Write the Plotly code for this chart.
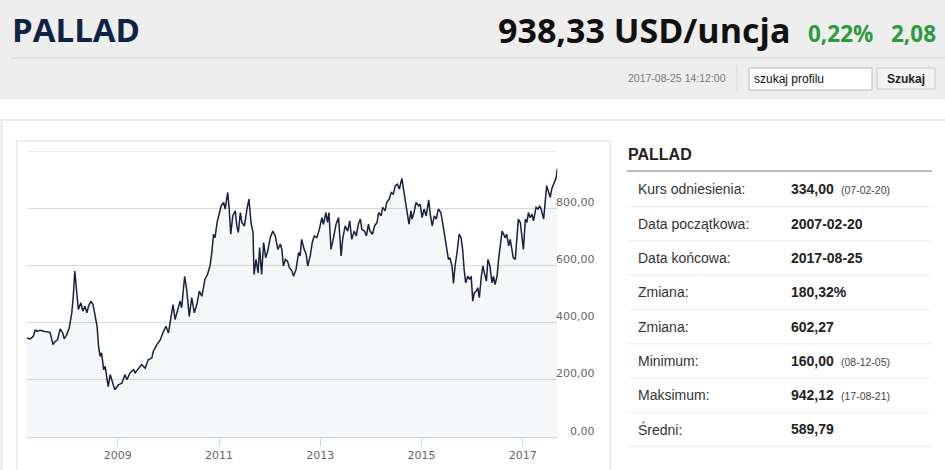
import plotly.graph_objects as go

# ---------------- data ----------------
years = [
    2007.20, 2007.27, 2007.33, 2007.37, 2007.40, 2007.47, 2007.56, 2007.66, 2007.72, 2007.76,
    2007.81, 2007.86, 2007.91, 2007.94, 2007.99, 2008.04, 2008.09, 2008.12, 2008.15, 2008.19,
    2008.22, 2008.27, 2008.31, 2008.35, 2008.39, 2008.42, 2008.47, 2008.51, 2008.55, 2008.59,
    2008.62, 2008.65, 2008.68, 2008.72, 2008.75, 2008.78, 2008.81, 2008.85, 2008.88, 2008.91,
    2008.94, 2009.01, 2009.08, 2009.14, 2009.18, 2009.24, 2009.31, 2009.34, 2009.41, 2009.47,
    2009.54, 2009.60, 2009.67, 2009.70, 2009.77, 2009.84, 2009.90, 2009.95, 2010.00, 2010.05,
    2010.09, 2010.13, 2010.18, 2010.23, 2010.26, 2010.32, 2010.36, 2010.41, 2010.46, 2010.51,
    2010.56, 2010.61, 2010.66, 2010.72, 2010.77, 2010.82, 2010.86, 2010.89, 2010.92, 2010.96,
    2011.00, 2011.04, 2011.09, 2011.12, 2011.17, 2011.20, 2011.23, 2011.27, 2011.32, 2011.35,
    2011.38, 2011.42, 2011.45, 2011.50, 2011.55, 2011.59, 2011.63, 2011.67, 2011.69, 2011.73,
    2011.77, 2011.80, 2011.84, 2011.88, 2011.92, 2011.96, 2012.01, 2012.06, 2012.11, 2012.16,
    2012.21, 2012.24, 2012.27, 2012.31, 2012.35, 2012.39, 2012.44, 2012.47, 2012.52, 2012.57,
    2012.60, 2012.63, 2012.68, 2012.72, 2012.75, 2012.80, 2012.84, 2012.88, 2012.93, 2012.98,
    2013.03, 2013.06, 2013.11, 2013.14, 2013.17, 2013.21, 2013.26, 2013.31, 2013.36, 2013.41,
    2013.44, 2013.49, 2013.54, 2013.58, 2013.62, 2013.67, 2013.71, 2013.75, 2013.79, 2013.82,
    2013.87, 2013.91, 2013.95, 2013.98, 2014.03, 2014.07, 2014.12, 2014.15, 2014.20, 2014.23,
    2014.28, 2014.31, 2014.36, 2014.40, 2014.44, 2014.48, 2014.52, 2014.56, 2014.61, 2014.64,
    2014.68, 2014.71, 2014.75, 2014.79, 2014.81, 2014.85, 2014.89, 2014.94, 2014.97, 2015.01,
    2015.05, 2015.09, 2015.14, 2015.17, 2015.21, 2015.25, 2015.29, 2015.33, 2015.38, 2015.42,
    2015.47, 2015.50, 2015.53, 2015.56, 2015.60, 2015.63, 2015.66, 2015.70, 2015.74, 2015.78,
    2015.81, 2015.84, 2015.87, 2015.91, 2015.95, 2015.98, 2016.01, 2016.04, 2016.08, 2016.11,
    2016.14, 2016.18, 2016.21, 2016.24, 2016.28, 2016.31, 2016.35, 2016.39, 2016.42, 2016.45,
    2016.49, 2016.52, 2016.55, 2016.59, 2016.62, 2016.65, 2016.68, 2016.72, 2016.75, 2016.78,
    2016.81, 2016.85, 2016.88, 2016.91, 2016.95, 2016.98, 2017.01, 2017.05, 2017.08, 2017.11,
    2017.14, 2017.18, 2017.21, 2017.26, 2017.30, 2017.33, 2017.36, 2017.41, 2017.44, 2017.47,
    2017.51, 2017.54, 2017.57, 2017.60, 2017.64, 2017.66, 2017.68,
]
prices = [
    346, 343, 352, 375, 369, 373, 369, 366, 323, 334,
    340, 378, 364, 343, 358, 381, 434, 492, 580, 504,
    446, 469, 440, 457, 434, 457, 475, 463, 422, 387,
    317, 282, 294, 235, 247, 200, 176, 218, 200, 182,
    165, 182, 188, 218, 200, 224, 235, 224, 241, 253,
    241, 270, 276, 299, 323, 340, 369, 387, 364, 422,
    463, 411, 440, 475, 452, 562, 516, 422, 487, 434,
    463, 510, 492, 551, 568, 598, 650, 709, 697, 750,
    779, 808, 820, 797, 855, 797, 709, 773, 791, 738,
    715, 785, 750, 738, 797, 832, 750, 715, 568, 621,
    574, 662, 568, 680, 627, 650, 697, 720, 703, 656,
    675, 656, 598, 621, 615, 592, 580, 562, 586, 645,
    633, 691, 656, 639, 598, 633, 680, 703, 697, 726,
    767, 744, 785, 750, 785, 656, 697, 744, 767, 633,
    691, 738, 720, 756, 691, 720, 703, 744, 762, 726,
    720, 703, 744, 720, 709, 738, 750, 785, 773, 803,
    791, 820, 832, 855, 849, 879, 884, 867, 904, 867,
    832, 797, 744, 791, 762, 785, 820, 808, 814, 767,
    797, 773, 829, 779, 738, 773, 762, 797, 785, 744,
    691, 668, 621, 627, 598, 537, 598, 645, 709, 697,
    656, 586, 539, 562, 551, 562, 475, 504, 510, 522,
    487, 562, 598, 574, 545, 621, 598, 539, 562, 533,
    562, 621, 668, 720, 709, 697, 709, 668, 691, 656,
    627, 621, 691, 762, 750, 703, 656, 762, 750, 785,
    767, 779, 756, 803, 797, 808, 797, 762, 820, 879,
    855, 838, 867, 879, 896, 908, 938,
]

ytick_vals = [0, 200, 400, 600, 800]
ytick_text = ["0,00", "200,00", "400,00", "600,00", "800,00"]
grid_vals = [0, 200, 400, 600, 800, 1000]
y_top = 1000
xtick_vals = [2009, 2011, 2013, 2015, 2017]
xtick_text = ["2009", "2011", "2013", "2015", "2017"]

title = "PALLAD"
price_text = "938,33 USD/uncja"
change_pct = "0,22%"
change_abs = "2,08"
timestamp = "2017-08-25 14:12:00"
search_placeholder = "szukaj profilu"
search_button = "Szukaj"

table_labels = ["Kurs odniesienia:", "Data początkowa:", "Data końcowa:", "Zmiana:",
                "Zmiana:", "Minimum:", "Maksimum:", "Średni:"]
table_values = ["334,00", "2007-02-20", "2017-08-25", "180,32%",
                "602,27", "160,00", "942,12", "589,79"]
table_notes = ["(07-02-20)", "", "", "", "", "(08-12-05)", "(17-08-21)", ""]

# ---------------- layout helpers ----------------
W, H = 945, 470


def px(x):
    return x / W


def py(y):
    return 1 - y / H


shapes = []
annotations = []


def rect(x0, y0, x1, y1, fill=None, line=None, lw=1, layer="below"):
    shapes.append(dict(type="rect", xref="paper", yref="paper",
                       x0=px(x0), x1=px(x1), y0=py(y1), y1=py(y0),
                       fillcolor=fill if fill else "rgba(0,0,0,0)",
                       line=dict(color=line if line else "rgba(0,0,0,0)", width=lw if line else 0),
                       layer=layer))


def hline(x0, x1, y, color, lw=1, layer="below"):
    shapes.append(dict(type="line", xref="paper", yref="paper",
                       x0=px(x0), x1=px(x1), y0=py(y), y1=py(y),
                       line=dict(color=color, width=lw), layer=layer))


def vline(x, y0, y1, color, lw=1, layer="below"):
    shapes.append(dict(type="line", xref="paper", yref="paper",
                       x0=px(x), x1=px(x), y0=py(y0), y1=py(y1),
                       line=dict(color=color, width=lw), layer=layer))


def text(x, y, s, size, color, family="Liberation Sans, Arial, sans-serif",
         xanchor="left", bold=False):
    annotations.append(dict(xref="paper", yref="paper", x=px(x), y=py(y),
                            text=("<b>%s</b>" % s) if bold else s,
                            showarrow=False, xanchor=xanchor, yanchor="middle",
                            font=dict(size=size, color=color, family=family),
                            borderpad=0))


# header band
rect(0, 0, W, 99.5, fill="#eeeeee")
hline(11, W, 58, "#d2d2d2", 1)
text(11, 30, title, 33, "#0f2346", family="Open Sans, sans-serif", bold=True)
text(791, 30, price_text, 34, "#111111", family="Open Sans, sans-serif", xanchor="right", bold=True)
text(807, 33, change_pct, 22.5, "#2b9b3c", family="Open Sans, sans-serif", bold=True)
text(937, 33, change_abs, 22.5, "#2b9b3c", family="Open Sans, sans-serif", xanchor="right", bold=True)
text(727, 78.5, timestamp, 10.5, "#777777", xanchor="right")
vline(737, 65, 92, "#d6d6d6", 1)
rect(749, 68, 872, 90, fill="#ffffff", line="#b9b9b9", lw=1)
text(753, 79, search_placeholder, 12, "#111111")
rect(877, 68, 935, 89, fill="#f3f3f3", line="#c9c9c9", lw=1)
text(906, 79, search_button, 12, "#222222", xanchor="center", bold=True)

# panels
rect(1.5, 120, W + 10, H + 10, fill="#ffffff", line="#e6e6e6", lw=2)
rect(16.5, 141, 610.5, H + 10, line="#e8e8e8", lw=1.5, layer="above")

# top grid line of the plot (edge of the value range)
shapes.append(dict(type="line", xref="x domain", yref="y", x0=0, x1=1, y0=y_top, y1=y_top,
                   line=dict(color="#d9d9d9", width=1), layer="below"))

# info table
text(627, 154.5, title, 16, "#222222", bold=True)
hline(627, 932, 171, "#a3a3a3", 1.5)
row0, step = 189.3, 34.3
for i, (lab, val, note) in enumerate(zip(table_labels, table_values, table_notes)):
    yc = row0 + i * step
    text(637, yc, lab, 14, "#333333")
    text(790, yc, val, 14, "#222222", bold=True)
    if note:
        text(840, yc + 1, note, 10.5, "#444444")
    hline(627, 932, yc + 17.3, "#ebebeb", 1)

# y tick labels (right aligned), placed through the y axis scale
for v, t in zip(ytick_vals, ytick_text):
    annotations.append(dict(xref="paper", yref="y", x=px(597), y=v, text=t,
                            showarrow=False, xanchor="right", yanchor="middle", yshift=6,
                            font=dict(size=11, color="#666666", family="DejaVu Sans, Verdana, sans-serif")))

# ---------------- figure ----------------
fig = go.Figure()
fig.add_trace(go.Scatter(
    x=years, y=prices, mode="lines",
    line=dict(color="#14223f", width=1.5),
    fill="tozeroy", fillcolor="rgba(40,70,110,0.045)",
    hoverinfo="skip", showlegend=False,
))

fig.update_layout(
    width=W, height=H,
    margin=dict(l=0, r=0, t=0, b=0),
    paper_bgcolor="#ffffff", plot_bgcolor="rgba(0,0,0,0)",
    showlegend=False,
    xaxis=dict(domain=[px(26.7), px(557.3)], range=[years[0], years[-1]],
               tickmode="array", tickvals=xtick_vals, ticktext=xtick_text,
               ticks="outside", ticklen=8, tickwidth=1, tickcolor="#c5d3e3",
               showline=True, linecolor="#c5d3e3", linewidth=1,
               showgrid=False, zeroline=False, fixedrange=True,
               tickfont=dict(size=11, color="#666666", family="DejaVu Sans, Verdana, sans-serif")),
    yaxis=dict(domain=[py(437), py(151)], range=[0, 1000],
               tickmode="array", tickvals=grid_vals, showticklabels=False,
               showgrid=True, gridcolor="#d9d9d9", gridwidth=1,
               zeroline=False, showline=False, fixedrange=True),
    shapes=shapes,
    annotations=annotations,
)

fig.write_html(
    "out.html",
    config={"displayModeBar": False},
    post_script="document.body.style.margin='0';document.body.style.overflow='hidden';",
)
